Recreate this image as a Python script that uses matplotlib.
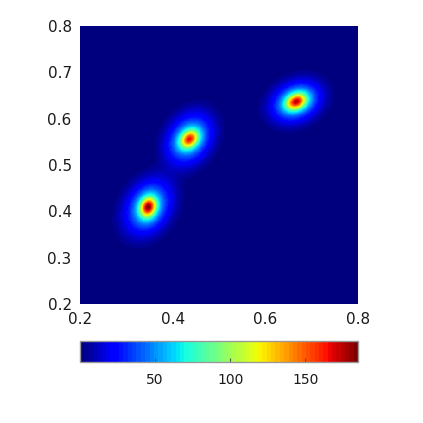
import numpy as np
import matplotlib
matplotlib.use('Agg')
import matplotlib.pyplot as plt
from matplotlib.colors import ListedColormap, Normalize

# Peak parameters
peak_x = [0.347, 0.436, 0.667]
peak_y = [0.409, 0.556, 0.637]
core_angle = [70, 45, 25]
core_aspect = [1.3, 1.3, 1.4]
core_amp = [100, 84, 92]
mid_amp = [45, 42, 44]
core_sigma = 0.012
mid_sigma = 0.020
halo_amp = [40, 40, 40]
halo_angle = [59, 58, 25]
halo_smaj = [0.055, 0.052, 0.049]
halo_smin = [0.040, 0.039, 0.036]
halo_power = 3.0

x_ticks = [0.2, 0.4, 0.6, 0.8]
y_ticks = [0.2, 0.3, 0.4, 0.5, 0.6, 0.7, 0.8]
cbar_ticks = [50, 100, 150]
vmin, vmax = 0, 185
n_colors = 64

xs = np.linspace(0.2, 0.8, 600)
ys = np.linspace(0.2, 0.8, 600)
X, Y = np.meshgrid(xs, ys)


def bump(A, cx, cy, ang, smaj, smin, p=2.0):
    t = np.deg2rad(ang)
    dx, dy = X - cx, Y - cy
    u = dx * np.cos(t) + dy * np.sin(t)
    v = -dx * np.sin(t) + dy * np.cos(t)
    d = np.sqrt((u / smaj) ** 2 + (v / smin) ** 2)
    return A * np.exp(-0.5 * d ** p)


Z = np.zeros_like(X)
for i in range(3):
    a = np.sqrt(core_aspect[i])
    Z += bump(core_amp[i], peak_x[i], peak_y[i], core_angle[i],
              core_sigma * a, core_sigma / a)
    Z += bump(mid_amp[i], peak_x[i], peak_y[i], core_angle[i],
              mid_sigma * a, mid_sigma / a)
    Z += bump(halo_amp[i], peak_x[i], peak_y[i], halo_angle[i],
              halo_smaj[i], halo_smin[i], halo_power)

cmap = ListedColormap(plt.get_cmap('jet')(np.linspace(0, 1, n_colors)))
norm = Normalize(vmin=vmin, vmax=vmax)

fig = plt.figure(figsize=(4.23, 4.23), dpi=100)
ax = fig.add_axes([80 / 423, 1 - 304 / 423, 278 / 423, 278 / 423])
im = ax.imshow(Z, origin='lower', extent=[0.2, 0.8, 0.2, 0.8], cmap=cmap, norm=norm,
               interpolation='nearest', aspect='auto')
ax.set_xlim(0.2, 0.8)
ax.set_ylim(0.2, 0.8)
ax.set_xticks(x_ticks)
ax.set_yticks(y_ticks)
ax.set_xticklabels([f'{v:.1f}' for v in x_ticks])
ax.set_yticklabels([f'{v:.1f}' for v in y_ticks])
ax.tick_params(direction='in', length=0, labelsize=11, colors='#1a1a1a', pad=6)
for s in ax.spines.values():
    s.set_visible(False)

cax = fig.add_axes([80 / 423, 1 - 362 / 423, 278 / 423, 21 / 423])
cb = fig.colorbar(im, cax=cax, orientation='horizontal', ticks=cbar_ticks)
cb.outline.set_edgecolor('#999999')
cb.outline.set_linewidth(1.0)
cax.tick_params(direction='in', length=3, labelsize=10, colors='#1a1a1a', pad=8,
                color='#555555')

fig.savefig('out.png', dpi=100)
